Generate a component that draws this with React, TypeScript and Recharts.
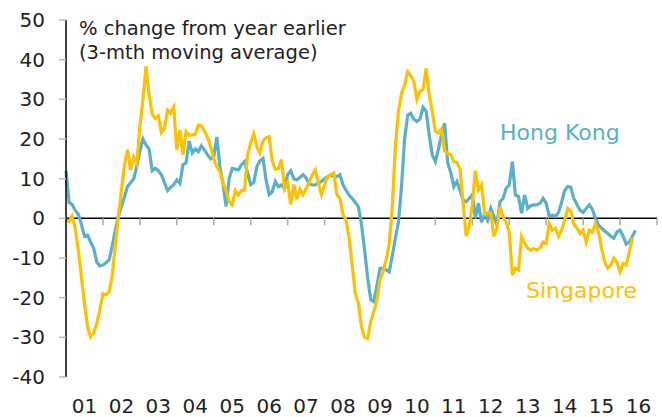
import { LineChart, Line, XAxis, YAxis, ReferenceLine } from 'recharts';

// monthly readings, 3-mth moving average, % y/y, starting Jan 2001
const hongKong = [
  12, 4, 3.5, 2, 1, -1.5, -4.5, -4.2, -6, -7.5, -11, -12,
  -11.8, -11.2, -10.5, -7, -3, 0.5, 3, 5.5, 8, 9, 10, 13,
  17, 20, 18.5, 17.5, 12, 12.6, 12, 11, 9, 7, 7.8, 8.5,
  9.7, 8.8, 13.5, 14, 19.5, 16.5, 17.5, 16.8, 18.3, 17.2, 16, 15,
  15.5, 20.5, 13, 8.8, 3, 10, 12.6, 12.4, 12.2, 13.5, 14.3, 11.4,
  8.5, 9, 13, 14.5, 15.1, 9.7, 6, 6.7, 9.3, 8, 8.4, 7.5,
  11, 12, 10, 9.7, 10.3, 11, 10.2, 8.8, 8.4, 8.4, 9, 9.3,
  10, 10.5, 10.9, 10.5, 10.5, 11, 8.5, 7, 5.8, 5, 4, 2.9,
  -1.5, -8, -15, -20.5, -21, -17, -12.6, -12.6, -13, -13.5, -9.5, -5,
  -1, 8, 20, 26, 26.5, 25, 24.4, 25, 28, 27, 21, 16,
  14.3, 17.5, 21, 24, 14, 11.5, 8, 9.3, 7, 4.6, 4.2, 5,
  6, 0, 3.8, -1, 1.3, -0.5, 2.5, 0.5, -1.7, 4.2, 5, 7.6,
  8.4, 14.3, 5.9, 5.5, 1.3, 5.9, 2.5, 3.2, 3.4, 3.4, 3.8, 5,
  3.8, 0.5, 0.8, 0.4, 1.5, 4, 7, 8, 7.8, 5, 3.5, 2,
  1.5, 2.5, 3.4, 2.3, 0, -1.7, -2.5, -3.2, -3.8, -4.5, -5, -3.4,
  -3, -4.5, -6.5, -6, -4.6, -3,
];

const singapore = [
  -0.4, -0.8, 0.6, -2.5, -8, -14.7, -21.4, -27.3, -29.9, -28.8, -26.5, -23.1,
  -19, -19.3, -18.5, -14.7, -7, 0.4, 7, 13.5, 17.3, 12.2, 15.4, 13.8,
  23.1, 30, 38.3, 31, 26.3, 25.2, 25.8, 21.6, 22.7, 27.3, 26.5, 28,
  17.2, 22.3, 16, 21.9, 21, 21, 21.2, 23.5, 23.3, 22, 20.4, 18,
  15, 13, 11.8, 9, 7, 4.2, 3.4, 7, 5.9, 7, 7.1, 16,
  19, 21.4, 18, 16.5, 19.5, 20.3, 20.6, 14.5, 12.4, 12.5, 14.8, 7.5,
  9, 3.5, 8.5, 4.8, 7.4, 6, 7.5, 9, 11, 12.2, 9, 6,
  8.5, 10.5, 11, 11.4, 6, 5, 1, -0.5, -5, -12, -19, -21.4,
  -27.3, -30, -30.3, -26, -23.5, -20.5, -15.5, -13.5, -10.5, -6.5, 3, 18,
  27, 31.5, 33.5, 37, 36, 34.5, 30, 32, 32.5, 37.8, 31, 27,
  22, 21.5, 22.5, 17, 16.4, 16, 14.3, 14, 12.5, 4, -4.5, -2,
  3.5, 12, 7.1, 8.4, 1, 1.3, 1.3, -4.5, -2.5, 2.9, 0.4, -1,
  -3.4, -14.3, -12.6, -13, -4.6, -6.3, -7.5, -8, -7.6, -8, -7.5, -6,
  -6.3, -1.3, -3, -2.5, -4.5, -3, -0.5, 2.5, 1.8, -1.5, -2.5, -3.8,
  -3, -5.9, -3, -3.5, -1.3, -3.4, -7.5, -11, -12.5, -11.8, -10, -11,
  -13.5, -11.4, -11.8, -8.5, -5,
];

const yearLabels = ['01', '02', '03', '04', '05', '06', '07', '08', '09', '10', '11', '12', '13', '14', '15', '16'];
const yTicks = [-40, -30, -20, -10, 0, 10, 20, 30, 40, 50];

const data = hongKong.map((v, i) => ({
  m: i,
  hk: v,
  sg: i < singapore.length ? singapore[i] : null,
}));

const labelTicks = yearLabels.map((_, i) => i * 12 + 6);
const yearEdges = yearLabels.map((_, i) => (i + 1) * 12);

const FONT = '"DejaVu Sans", sans-serif';
const BLUE = '#5AAFCA';
const GOLD = '#FFC000';

export default function App() {
  return (
    <div style={{ position: 'absolute', left: 0, top: 0, width: 662, height: 417, background: '#fff', fontFamily: FONT }}>
      <LineChart width={662} height={417} data={data} margin={{ top: 20, right: 5, bottom: 0, left: 8 }}>
        <XAxis
          dataKey="m"
          type="number"
          domain={[0, 192]}
          ticks={labelTicks}
          tickFormatter={(v: number) => yearLabels[(v - 6) / 12]}
          axisLine={false}
          tickLine={false}
          tickSize={0}
          tickMargin={22}
          height={40}
          interval={0}
          tick={{ fill: '#222', fontSize: 20, fontFamily: FONT }}
        />
        <YAxis
          domain={[-40, 50]}
          ticks={yTicks}
          width={58}
          axisLine={{ stroke: '#000', strokeWidth: 1.5 }}
          tickLine={{ stroke: '#bbb', strokeWidth: 1.5 }}
          tickSize={7}
          tickMargin={14}
          interval={0}
          tick={{ fill: '#222', fontSize: 20, fontFamily: FONT }}
        />
        <ReferenceLine y={0} stroke="#000" strokeWidth={1.5} />
        {yearEdges.map((x) => (
          <ReferenceLine key={x} segment={[{ x, y: 0 }, { x, y: -1.75 }]} stroke="#aaa" strokeWidth={1.5} />
        ))}
        <Line type="linear" dataKey="hk" stroke={BLUE} strokeWidth={3.2} dot={false} isAnimationActive={false} />
        <Line type="linear" dataKey="sg" stroke={GOLD} strokeWidth={3.2} dot={false} isAnimationActive={false} />
      </LineChart>
      <div style={{ position: 'absolute', left: 79, top: 17, fontSize: 19.5, lineHeight: '24px', color: '#222', whiteSpace: 'nowrap' }}>
        % change from year earlier
        <br />
        (3-mth moving average)
      </div>
      <div style={{ position: 'absolute', left: 500, top: 120, fontSize: 22, lineHeight: '26px', color: BLUE, whiteSpace: 'nowrap' }}>
        Hong Kong
      </div>
      <div style={{ position: 'absolute', left: 526, top: 278, fontSize: 22, lineHeight: '26px', color: GOLD, whiteSpace: 'nowrap' }}>
        Singapore
      </div>
    </div>
  );
}
